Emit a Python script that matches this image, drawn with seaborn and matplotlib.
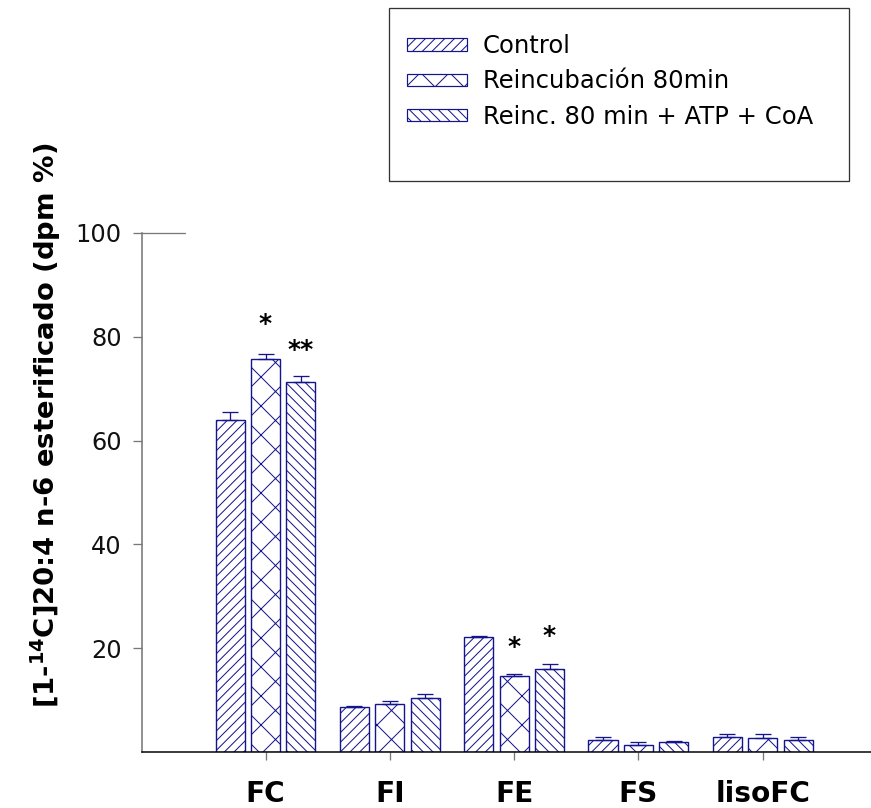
import matplotlib
matplotlib.use("Agg")
import matplotlib.pyplot as plt
from matplotlib.patches import Patch, Rectangle
import seaborn as sns
import pandas as pd
import numpy as np

# ---------------- data ----------------
categories = ["FC", "FI", "FE", "FS", "lisoFC"]
groups = ["Control", "Reincubación 80min", "Reinc. 80 min + ATP + CoA"]
control = [64.0, 8.7, 22.2, 2.3, 2.95]
reinc = [75.8, 9.2, 14.6, 1.3, 2.7]
reinc_atp = [71.3, 10.4, 15.9, 1.9, 2.4]
err_control = [1.6, 0.2, 0.2, 0.5, 0.45]
err_reinc = [0.8, 0.7, 0.4, 0.6, 0.7]
err_reinc_atp = [1.1, 0.7, 1.0, 0.2, 0.4]
yticks = [20, 40, 60, 80, 100]
# significance marks: (category, group index, y, text)
stars = [("FC", 1, 82.5, "*"), ("FC", 2, 77.5, "**"),
         ("FE", 1, 20.3, "*"), ("FE", 2, 22.4, "*")]

values = [control, reinc, reinc_atp]
errors = [err_control, err_reinc, err_reinc_atp]
hatches = ["//////", "xx", "\\\\\\\\\\\\"]

df = pd.DataFrame({
    "cat": [c for g in groups for c in categories],
    "group": [g for g in groups for c in categories],
    "val": [v for vals in values for v in vals],
})

# ---------------- style ----------------
DPI = 174
PX = 72.0 / DPI  # points per pixel
NAVY = "#14148c"
sns.set_style("white")
plt.rcParams["font.family"] = ["DejaVu Sans"]
plt.rcParams["text.color"] = "black"
plt.rcParams["hatch.linewidth"] = 1.0 * PX
plt.rcParams["hatch.color"] = NAVY
plt.rcParams["mathtext.fontset"] = "dejavusans"

fig = plt.figure(figsize=(871 / DPI, 808 / DPI), dpi=DPI)
left, right, top, bottom = 141.7, 871.0, 233.0, 752.0
ax = fig.add_axes([left / 871, 1 - bottom / 808, (right - left) / 871, (bottom - top) / 808])

sns.barplot(data=df, x="cat", y="val", hue="group", order=categories, hue_order=groups,
            palette=["white"] * 3, width=0.855, gap=0.18, errorbar=None,
            edgecolor=NAVY, linewidth=1.4 * PX, legend=False, ax=ax)

for cont, h, err in zip(ax.containers, hatches, errors):
    xs, ys = [], []
    for p in cont.patches:
        p.set_hatch(h)
        p.set_edgecolor(NAVY)
        xs.append(p.get_x() + p.get_width() / 2)
        ys.append(p.get_height())
    ax.errorbar(xs, ys, yerr=[np.zeros(len(err)), err], fmt="none",
                ecolor=NAVY, elinewidth=1.3 * PX, capsize=8 * PX,
                capthick=1.3 * PX, zorder=3)

for cat, gi, y, txt in stars:
    ci = categories.index(cat)
    p = ax.containers[gi].patches[ci]
    ax.text(p.get_x() + p.get_width() / 2, y, txt, ha="center", va="center",
            fontsize=25 * PX, fontweight="bold", color="black")

ax.set_xlim(-0.996, 4.871)
ax.set_ylim(0, 100)
ax.set_yticks(yticks)
ax.set_yticklabels([str(t) for t in yticks], fontsize=24 * PX, color="#111111")
ax.set_xticks(range(len(categories)))
ax.set_xticklabels(categories, fontsize=28 * PX, fontweight="bold", color="black")
ax.set_xlabel("")
ax.set_ylabel("")

for s in ["top", "right"]:
    ax.spines[s].set_visible(False)
ax.spines["left"].set_color("#777777")
ax.spines["left"].set_linewidth(1.6 * PX)
ax.spines["bottom"].set_color("black")
ax.spines["bottom"].set_linewidth(1.5 * PX)
ax.tick_params(axis="y", direction="out", length=9 * PX, width=1.3 * PX,
               color="#777777", pad=11 * PX, left=True)
ax.tick_params(axis="x", direction="out", length=8 * PX, width=1.3 * PX,
               color="#777777", pad=20 * PX, bottom=True)
# short horizontal line at the top of the y axis
ax.plot([-0.996, -0.65], [100, 100], color="#777777", lw=1.3 * PX, clip_on=False)

fig.text(46 / 871, 1 - 425 / 808, r"[1-$\mathbf{^{14}}$C]20:4 n-6 esterificado (dpm %)",
         rotation=90, ha="center", va="center", fontsize=27.5 * PX, fontweight="bold")

# legend
handles = [Patch(facecolor="white", edgecolor=NAVY, hatch=h, linewidth=1.2 * PX) for h in hatches]
fs = 24.3
leg = fig.legend(handles, groups, loc="upper left",
                 bbox_to_anchor=(406.7 / 871, 1 - 34 / 808), frameon=False,
                 fontsize=fs * PX, handlelength=60 / fs, handleheight=10 / fs,
                 handletextpad=16 / fs, labelspacing=0.47, borderpad=0, borderaxespad=0)
fig.add_artist(Rectangle((389 / 871, 1 - 181 / 808), (849 - 389) / 871, (181 - 8) / 808,
                         transform=fig.transFigure, fill=False, edgecolor="#333333",
                         linewidth=1.3 * PX))

fig.savefig("out.png", dpi=DPI)
